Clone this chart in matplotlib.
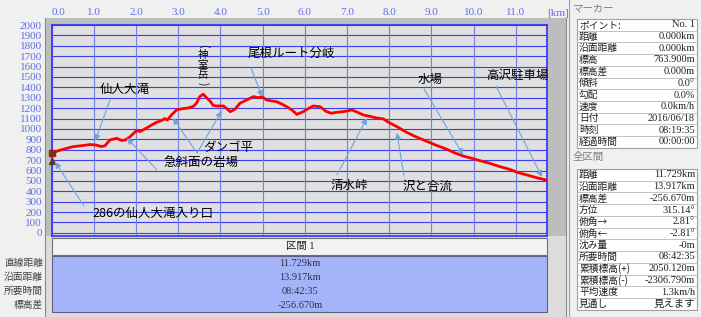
import numpy as np
import matplotlib
matplotlib.use("Agg")
import matplotlib.pyplot as plt
from matplotlib.patches import Rectangle

plt.rcParams['font.family'] = ['Noto Sans CJK JP', 'DejaVu Sans']

# ---------------- data ----------------
dist_km = [0.00, 0.15, 0.36, 0.51, 0.67, 0.91, 1.05, 1.18, 1.26, 1.38, 1.54, 1.66, 1.75,
           1.86, 2.01, 2.10, 2.25, 2.40, 2.49, 2.60, 2.68, 2.74, 2.85, 2.96, 3.10, 3.20,
           3.35, 3.43, 3.51, 3.59, 3.67, 3.75, 3.83, 3.91, 4.07, 4.15, 4.23, 4.34, 4.46,
           4.62, 4.78, 4.90, 4.98, 5.09, 5.20, 5.33, 5.45, 5.57, 5.70, 5.81, 5.96, 6.10,
           6.20, 6.36, 6.50, 6.62, 6.75, 6.90, 7.00, 7.11, 7.25, 7.38, 7.55, 7.70, 7.86,
           8.00, 8.18, 8.40, 8.60, 8.81, 9.10, 9.36, 9.55, 9.75, 10.00, 10.15, 10.40,
           10.60, 10.86, 11.05, 11.25, 11.50, 11.73]
elev_m = [764, 790, 814, 830, 837, 850, 845, 830, 838, 894, 910, 888, 895,
          926, 984, 975, 1010, 1045, 1065, 1080, 1100, 1085, 1140, 1183, 1195, 1199,
          1215, 1247, 1311, 1335, 1300, 1270, 1225, 1221, 1221, 1195, 1166, 1189, 1247,
          1279, 1311, 1300, 1311, 1279, 1270, 1262, 1240, 1214, 1180, 1140, 1166, 1200,
          1221, 1214, 1170, 1151, 1160, 1166, 1173, 1183, 1160, 1135, 1120, 1105, 1096,
          1060, 1022, 970, 930, 894, 845, 805, 770, 740, 712, 695, 667,
          640, 610, 580, 558, 530, 507]

x_ticks = [0, 1, 2, 3, 4, 5, 6, 7, 8, 9, 10, 11]
x_tick_labels = ["0.0", "1.0", "2.0", "3.0", "4.0", "5.0", "6.0", "7.0", "8.0", "9.0", "10.0", "11.0"]
y_ticks = list(range(0, 2001, 100))

# annotation arrow targets (km, m)
ann_targets_km = [0.08, 1.03, 1.78, 2.87, 4.03, 4.99, 9.75, 11.62, 7.47, 8.18]
ann_targets_m = [683, 885, 913, 1106, 1173, 1308, 750, 538, 1106, 962]

section_title = "区間 1"
section_row_labels = ["直線距離", "沿面距離", "所要時間", "標高差"]
section_values = ["11.729km", "13.917km", "08:42:35", "-256.670m"]

marker_labels = ["ポイント:", "距離", "沿面距離", "標高", "標高差", "傾斜", "勾配", "速度",
                 "日付", "時刻", "経過時間"]
marker_values = ["No. 1", "0.000km", "0.000km", "763.900m", "0.000m", "0.0°", "0.0%",
                 "0.0km/h", "2016/06/18", "08:19:35", "00:00:00"]
total_labels = ["距離", "沿面距離", "標高差", "方位", "俯角→", "俯角←", "沈み量", "所要時間",
                "累積標高(+)", "累積標高(-)", "平均速度", "見通し"]
total_values = ["11.729km", "13.917km", "-256.670m", "315.14°", "2.81°", "-2.81°", "-0m",
                "08:42:35", "2050.120m", "-2306.790m", "1.3km/h", "見えます"]

# ---------------- figure ----------------
W, H = 701, 317
fig = plt.figure(figsize=(W / 100, H / 100), dpi=100, facecolor='#f0f0f0')

bg = fig.add_axes([0, 0, 1, 1], zorder=0)
bg.set_xlim(0, W)
bg.set_ylim(H, 0)
bg.axis('off')

# grey frame around chart
bg.add_patch(Rectangle((45, 18), 521, 220, facecolor='#bdbdbd', edgecolor='none'))
bg.add_patch(Rectangle((45, 236), 521, 81, facecolor='#dcdcdc', edgecolor='none'))
bg.plot([45, 45], [18, 317], color='#8a8a8a', lw=0.8)
bg.plot([566, 566], [18, 317], color='#8a8a8a', lw=0.8)

# main plot axes (pixel geometry)
L, R, T, B = 51.7, 546.7, 25, 236
ax = fig.add_axes([L / W, 1 - B / H, (R - L) / W, (B - T) / H], zorder=2)
ax.set_facecolor('#e0e0e0')
ax.set_xlim(0, 11.73)
ax.set_ylim(-30, 2000)

for yv in y_ticks:
    ax.axhline(yv, color='#3c3cf2', lw=0.8, zorder=1)
for xv in x_ticks:
    ax.axvline(xv, color='#7080e6', lw=0.8, zorder=1)
for s in ax.spines.values():
    s.set_color('#3030ff')
    s.set_linewidth(1.2)

tick_color = '#6270e4'
ax.set_yticks(y_ticks)
ax.set_yticklabels([str(v) for v in y_ticks], family='Liberation Serif', fontsize=8, color=tick_color)
ax.xaxis.tick_top()
ax.set_xticks(x_ticks)
ax.set_xticklabels(x_tick_labels, family='Liberation Serif', fontsize=8, color=tick_color)
ax.xaxis.get_ticklabels()[0].set_ha('left')
ax.tick_params(axis='y', length=0, pad=7)
ax.tick_params(axis='x', length=0, pad=6)

# profile
ax.plot(dist_km, elev_m, color='#ff0000', lw=2.0, zorder=3, solid_joinstyle='round')
# start marker icon
ax.plot([dist_km[0]], [elev_m[0]], marker='s', ms=4, color='#8b2a1a', zorder=4, clip_on=False)
ax.plot([dist_km[0]], [elev_m[0] - 70], marker='^', ms=4, color='#5a3a20', zorder=4, clip_on=False)

# [km]
fig.text(558 / W, 1 - 13 / H, "[km]", family='Liberation Serif', fontsize=8, color=tick_color,
         ha='center', va='center')

# annotation text (pixel coordinates)
px = bg.transData
text_items = [("286の仙人大滝入り口", 153, 214), ("仙人大滝", 125, 89), ("急斜面の岩場", 201, 162),
              ("ダンゴ平", 228, 148), ("尾根ルート分岐", 291, 53), ("水場", 430, 79),
              ("高沢駐車場", 517, 75), ("清水峠", 349, 185), ("沢と合流", 428, 186)]
for t, x, y in text_items:
    ax.text(x, y, t, transform=px, fontsize=9, color='black', ha='center', va='center',
            zorder=6, clip_on=False)
# vertical peak name with rotated parentheses
ax.text(203, 65, "神\n室\n岳", transform=px, fontsize=7.5, color='black', ha='center',
        va='center', linespacing=0.95, zorder=6, clip_on=False)
ax.text(203, 47, "(", transform=px, fontsize=7.5, color='black', ha='center',
        va='center', rotation=-90, zorder=6, clip_on=False)
ax.text(203, 84, ")", transform=px, fontsize=7.5, color='black', ha='center',
        va='center', rotation=-90, zorder=6, clip_on=False)

arrow_starts = [(84, 206), (110, 100), (157, 170), (197, 153), (197, 153),
                (251, 68), (424, 89), (496, 86), (337, 175), (404, 176)]
for (sx, sy), tx, ty in zip(arrow_starts, ann_targets_km, ann_targets_m):
    ax.annotate('', xy=(tx, ty), xycoords='data', xytext=(sx, H - sy),
                textcoords='figure pixels',
                arrowprops=dict(arrowstyle='-|>', color='#6fa4dc', lw=0.8,
                                mutation_scale=9, shrinkA=0, shrinkB=0),
                zorder=5, annotation_clip=False)

# ---------------- bottom section table ----------------
bg2 = fig.add_axes([0, 0, 1, 1], zorder=3)
bg2.set_xlim(0, W)
bg2.set_ylim(H, 0)
bg2.axis('off')
bg2.patch.set_alpha(0)

bg2.add_patch(Rectangle((52, 238), 495, 17, facecolor='#f2f2f2', edgecolor='#707070', lw=0.8))
bg2.text(300, 246.5, section_title, fontsize=7.5, family=['Liberation Serif', 'Noto Sans CJK JP'],
         color='#202020', ha='center', va='center')
bg2.add_patch(Rectangle((52, 256), 495, 56, facecolor='#a4b4f8', edgecolor='#606080', lw=0.8))
for i, (lab, val) in enumerate(zip(section_row_labels, section_values)):
    yy = 263 + i * 14
    bg2.text(300, yy, val, fontsize=7.5, family='Liberation Serif', color='#303050',
             ha='center', va='center')
    bg2.text(43, yy, lab, fontsize=7, color='#404040', ha='right', va='center')

# ---------------- right information panel ----------------
bg2.plot([569, 569], [0, H], color='#a0a0a0', lw=0.8)
bg2.text(573, 8, "マーカー", fontsize=7.5, color='#808080', ha='left', va='center')
bg2.text(573, 157, "全区間", fontsize=7.5, color='#808080', ha='left', va='center')


def draw_table(labels, values, top, step):
    n = len(labels)
    bg2.add_patch(Rectangle((577, top), 120, n * step, facecolor='white',
                            edgecolor='#a0a0a0', lw=0.8))
    for i, (lab, val) in enumerate(zip(labels, values)):
        y0 = top + i * step
        if i > 0:
            bg2.plot([577, 697], [y0, y0], color='#b8b8b8', lw=0.6)
        yc = y0 + step / 2
        bg2.text(579, yc, lab, fontsize=7, color='#202020', ha='left', va='center')
        bg2.text(695, yc, val, fontsize=7.5, family=['Liberation Serif', 'Noto Sans CJK JP'],
                 color='#202020', ha='right', va='center')


draw_table(marker_labels, marker_values, 19, 11.7)
draw_table(total_labels, total_values, 169, 11.73)

fig.savefig("out.png", dpi=100, facecolor=fig.get_facecolor())
